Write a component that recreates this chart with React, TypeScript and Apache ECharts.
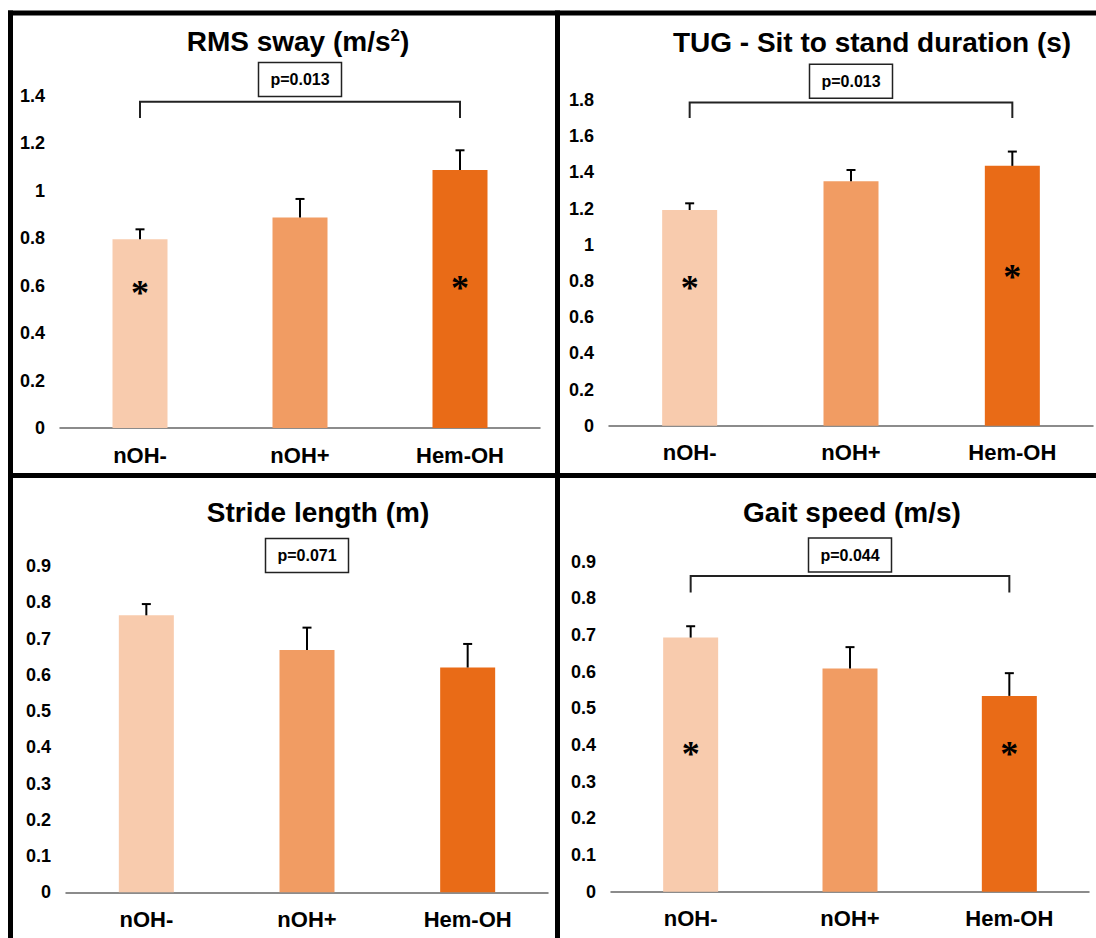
import { useEffect, useRef } from 'react';
import * as echarts from 'echarts';

const categories = ['nOH-', 'nOH+', 'Hem-OH'];
const barColors = ['#F8CBAD', '#F19C63', '#E96B17'];

const rmsSway = [0.795, 0.887, 1.087];
const rmsSwayErr = [0.042, 0.078, 0.083];
const tugSitToStand = [1.192, 1.351, 1.436];
const tugSitToStandErr = [0.037, 0.062, 0.079];
const strideLength = [0.764, 0.668, 0.62];
const strideLengthErr = [0.031, 0.062, 0.065];
const gaitSpeed = [0.693, 0.609, 0.534];
const gaitSpeedErr = [0.031, 0.058, 0.062];

const panelValues = [rmsSway, tugSitToStand, strideLength, gaitSpeed];
const panelErrors = [rmsSwayErr, tugSitToStandErr, strideLengthErr, gaitSpeedErr];

const yMax = [1.4, 1.8, 0.9, 0.9];
const yInterval = [0.2, 0.2, 0.1, 0.1];

const pLabels = ['p=0.013', 'p=0.013', 'p=0.071', 'p=0.044'];
const pBoxValue = [1.468, 1.904, 0.929, 0.918];
// bracket: [horizontal level, leg end level] (null = no bracket)
const bracketTop = [1.374, 1.786, null, 0.861];
const bracketLeg = [1.306, 1.701, null, 0.816];
// asterisks: [categoryIndex, value]
const asterisks = [
  [[0, 0.59], [2, 0.611]],
  [[0, 0.789], [2, 0.851]],
  [],
  [[0, 0.388], [2, 0.388]],
];

const FONT = '"Liberation Sans", Arial, Helvetica, sans-serif';

// layout (pixels)
const grids = [
  { left: 60, top: 95.7, width: 480, height: 332.3 },
  { left: 609, top: 100, width: 484, height: 325.7 },
  { left: 66, top: 566, width: 482, height: 326.3 },
  { left: 611, top: 561.7, width: 478, height: 330 },
];
const titlePos = [
  { x: 298, y: 41 },
  { x: 872, y: 42 },
  { x: 318, y: 512 },
  { x: 852, y: 512 },
];

export default function App() {
  const ref = useRef<HTMLDivElement>(null);

  useEffect(() => {
    if (!ref.current) return;
    const chart = echarts.init(ref.current, undefined, { renderer: 'svg' });

    const series: any[] = [];
    const xAxis: any[] = [];
    const yAxis: any[] = [];

    panelValues.forEach((vals, p) => {
      xAxis.push({
        type: 'category',
        gridIndex: p,
        data: categories,
        axisLine: { show: true, lineStyle: { color: '#666', width: 1.5 } },
        axisTick: { show: false },
        axisLabel: {
          margin: 16,
          color: '#000',
          fontFamily: FONT,
          fontWeight: 'bold',
          fontSize: 22,
        },
      });
      yAxis.push({
        type: 'value',
        gridIndex: p,
        min: 0,
        max: yMax[p],
        interval: yInterval[p],
        axisLine: { show: false },
        axisTick: { show: false },
        splitLine: { show: false },
        axisLabel: {
          margin: 15,
          color: '#000',
          fontFamily: FONT,
          fontWeight: 'bold',
          fontSize: 18,
        },
      });

      series.push({
        type: 'bar',
        xAxisIndex: p,
        yAxisIndex: p,
        barWidth: 55,
        data: vals.map((v, i) => ({ value: v, itemStyle: { color: barColors[i] } })),
        z: 2,
      });

      const errs = panelErrors[p];
      series.push({
        type: 'custom',
        xAxisIndex: p,
        yAxisIndex: p,
        clip: false,
        z: 3,
        data: vals.map((v, i) => [i, v, errs[i]]),
        renderItem: (params: any, api: any) => {
          const base = api.coord([api.value(0), api.value(1)]);
          const top = api.coord([api.value(0), api.value(1) + api.value(2)]);
          return {
            type: 'group',
            children: [
              { type: 'line', shape: { x1: base[0], y1: base[1], x2: top[0], y2: top[1] }, style: { stroke: '#000', lineWidth: 2 } },
              { type: 'line', shape: { x1: top[0] - 4.5, y1: top[1], x2: top[0] + 4.5, y2: top[1] }, style: { stroke: '#000', lineWidth: 2 } },
            ],
          };
        },
      });

      if (bracketTop[p] !== null) {
        series.push({
          type: 'custom',
          xAxisIndex: p,
          yAxisIndex: p,
          clip: false,
          z: 3,
          data: [[0, bracketTop[p], 2, bracketLeg[p]]],
          renderItem: (params: any, api: any) => {
            const a = api.coord([api.value(0), api.value(3)]);
            const b = api.coord([api.value(0), api.value(1)]);
            const c = api.coord([api.value(2), api.value(1)]);
            const d = api.coord([api.value(2), api.value(3)]);
            return {
              type: 'polyline',
              shape: { points: [a, b, c, d] },
              style: { stroke: '#222', lineWidth: 2, fill: null },
            };
          },
        });
      }

      const label = pLabels[p];
      series.push({
        type: 'custom',
        xAxisIndex: p,
        yAxisIndex: p,
        clip: false,
        z: 4,
        data: [[1, pBoxValue[p]]],
        renderItem: (params: any, api: any) => {
          const c = api.coord([api.value(0), api.value(1)]);
          return {
            type: 'group',
            children: [
              { type: 'rect', shape: { x: c[0] - 41.5, y: c[1] - 17, width: 83, height: 34 }, style: { fill: '#fff', stroke: '#222', lineWidth: 1.5 } },
              {
                type: 'text',
                x: c[0],
                y: c[1],
                style: {
                  text: label,
                  fill: '#000',
                  font: `bold 16px ${FONT}`,
                  align: 'center',
                  verticalAlign: 'middle',
                  textAlign: 'center',
                  textVerticalAlign: 'middle',
                },
              },
            ],
          };
        },
      });

      if (asterisks[p].length) {
        series.push({
          type: 'custom',
          xAxisIndex: p,
          yAxisIndex: p,
          clip: false,
          z: 4,
          data: asterisks[p],
          renderItem: (params: any, api: any) => {
            const c = api.coord([api.value(0), api.value(1)]);
            return {
              type: 'text',
              x: c[0],
              y: c[1] + 5,
              style: {
                text: '*',
                fill: '#000',
                font: `bold 36px "Liberation Serif", "Times New Roman", serif`,
                align: 'center',
                verticalAlign: 'middle',
                textAlign: 'center',
                textVerticalAlign: 'middle',
              },
            };
          },
        });
      }
    });

    const titleRich = { sup: { fontSize: 17, fontWeight: 'bold', fontFamily: FONT, fill: '#000', color: '#000', verticalAlign: 'top', padding: [0, 0, 12, 0] } };
    const titleTexts = ['RMS sway (m/s{sup|2})', 'TUG - Sit to stand duration (s)', 'Stride length (m)', 'Gait speed (m/s)'];

    const graphic: any[] = [];
    titleTexts.forEach((t, i) => {
      graphic.push({
        type: 'text',
        x: titlePos[i].x,
        y: titlePos[i].y,
        z: 10,
        style: {
          text: t,
          fill: '#000',
          font: `bold 28px ${FONT}`,
          align: 'center',
          verticalAlign: 'middle',
          textAlign: 'center',
          textVerticalAlign: 'middle',
          rich: titleRich,
        },
      });
    });
    const border = { stroke: '#000', lineWidth: 5 };
    graphic.push(
      { type: 'line', shape: { x1: 10.5, y1: 10.5, x2: 10.5, y2: 938 }, style: border, z: 20 },
      { type: 'line', shape: { x1: 8, y1: 13, x2: 1096, y2: 13 }, style: border, z: 20 },
      { type: 'line', shape: { x1: 557.5, y1: 10.5, x2: 557.5, y2: 938 }, style: border, z: 20 },
      { type: 'line', shape: { x1: 8, y1: 475.5, x2: 1096, y2: 475.5 }, style: border, z: 20 },
    );

    chart.setOption({
      animation: false,
      backgroundColor: '#fff',
      grid: grids.map((g) => ({ ...g, containLabel: false })),
      xAxis,
      yAxis,
      series,
      graphic,
    });

    return () => chart.dispose();
  }, []);

  return (
    <div
      ref={ref}
      style={{ position: 'absolute', left: 0, top: 0, width: 1096, height: 938, background: '#fff' }}
    />
  );
}
